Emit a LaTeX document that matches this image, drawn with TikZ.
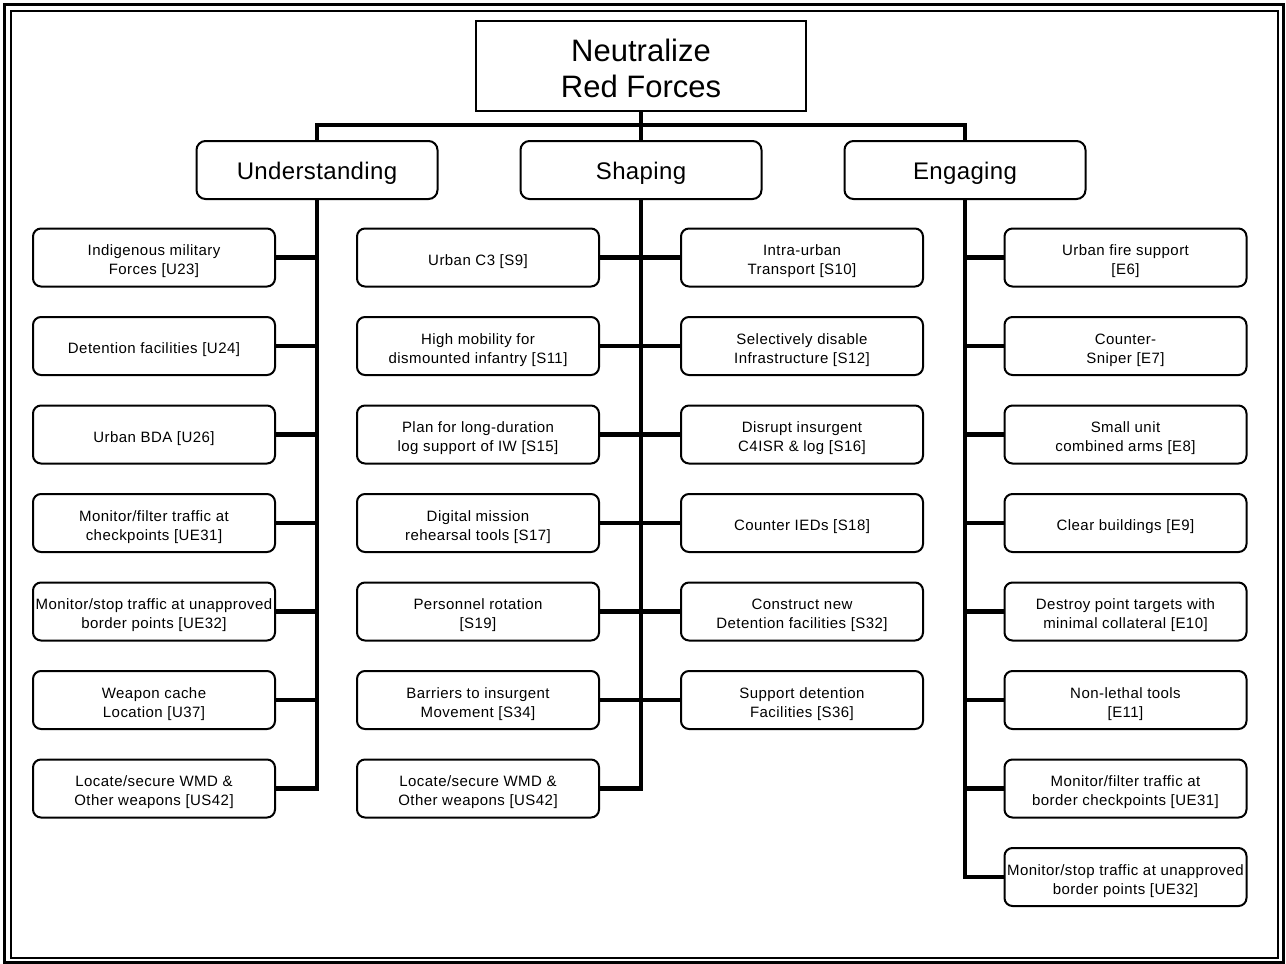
\documentclass[tikz,border=0pt]{standalone}
\usepackage{fontspec}
\setmainfont{Liberation Sans}
\newfontfamily\boxfont{Liberation Sans}[LetterSpace=3]
\newfontfamily\headfont{Liberation Sans}[LetterSpace=1.5]
\newcommand{\lowtxt}[2]{\raisebox{-#1}[\height][\depth]{\begin{tabular}{@{}c@{}}#2\end{tabular}}}
\begin{document}
\begin{tikzpicture}[x=1pt,y=-1pt,
  box/.style={draw,line width=2pt,rounded corners=8pt,minimum width=242pt,minimum height=58pt,inner sep=0pt,align=center,font=\boxfont\fontsize{15}{19}\selectfont},
  head/.style={draw,line width=2pt,rounded corners=9pt,minimum width=241pt,minimum height=58pt,inner sep=0pt,font=\headfont\fontsize{24}{28}\selectfont},
  root/.style={draw,line width=2pt,minimum width=330pt,minimum height=90pt,inner sep=0pt,align=center,font=\fontsize{31}{36}\selectfont},
  conn/.style={line width=4.5pt,line join=miter}]
\useasboundingbox (0,0) rectangle (1286,964);
\draw[line width=3pt] (4.5,4.5) rectangle (1283,962);
\draw[line width=2pt] (10.5,10.5) rectangle (1278,957.5);

% top levels
\node[root] (top) at (641,66) {\lowtxt{6pt}{Neutralize\\Red Forces}};
\node[head] (U) at (317,170) {\lowtxt{4pt}{Understanding}};
\node[head] (S) at (641,170) {\lowtxt{4pt}{Shaping}};
\node[head] (E) at (965,170) {\lowtxt{4pt}{Engaging}};
\coordinate (bus) at (641,125);
\draw[conn] (top.south) -- (S.north);
\draw[conn] (U.north) -- (U.north |- bus) -- (E.north |- bus) -- (E.north);

% Understanding column
\node[box] (u1) at (154,257.5) {\lowtxt{4pt}{Indigenous military\\Forces [U23]}};
\node[box] (u2) at (154,346) {\lowtxt{4pt}{Detention facilities [U24]}};
\node[box] (u3) at (154,434.5) {\lowtxt{4pt}{Urban BDA [U26]}};
\node[box] (u4) at (154,523) {\lowtxt{4pt}{Monitor/filter traffic at\\checkpoints [UE31]}};
\node[box] (u5) at (154,611.5) {\lowtxt{4pt}{Monitor/stop traffic at unapproved\\border points [UE32]}};
\node[box] (u6) at (154,700) {\lowtxt{4pt}{Weapon cache\\Location [U37]}};
\node[box] (u7) at (154,788.5) {\lowtxt{4pt}{Locate/secure WMD \&\\Other weapons [US42]}};
\draw[conn] (U.south) -- (U.south |- u7.east) -- (u7.east);
\foreach \c in {u1,u2,u3,u4,u5,u6}
  \draw[conn] (\c.east) -- (\c.east -| U.south);

% Shaping column
\node[box] (sl1) at (478,257.5) {\lowtxt{4pt}{Urban C3 [S9]}};
\node[box] (sl2) at (478,346) {\lowtxt{4pt}{High mobility for\\dismounted infantry [S11]}};
\node[box] (sl3) at (478,434.5) {\lowtxt{4pt}{Plan for long-duration\\log support of IW [S15]}};
\node[box] (sl4) at (478,523) {\lowtxt{4pt}{Digital mission\\rehearsal tools [S17]}};
\node[box] (sl5) at (478,611.5) {\lowtxt{4pt}{Personnel rotation\\{[S19]}}};
\node[box] (sl6) at (478,700) {\lowtxt{4pt}{Barriers to insurgent\\Movement [S34]}};
\node[box] (sl7) at (478,788.5) {\lowtxt{4pt}{Locate/secure WMD \&\\Other weapons [US42]}};
\node[box] (sr1) at (802,257.5) {\lowtxt{4pt}{Intra-urban\\Transport [S10]}};
\node[box] (sr2) at (802,346) {\lowtxt{4pt}{Selectively disable\\Infrastructure [S12]}};
\node[box] (sr3) at (802,434.5) {\lowtxt{4pt}{Disrupt insurgent\\C4ISR \& log [S16]}};
\node[box] (sr4) at (802,523) {\lowtxt{4pt}{Counter IEDs [S18]}};
\node[box] (sr5) at (802,611.5) {\lowtxt{4pt}{Construct new\\Detention facilities [S32]}};
\node[box] (sr6) at (802,700) {\lowtxt{4pt}{Support detention\\Facilities [S36]}};
\draw[conn] (S.south) -- (S.south |- sl7.east) -- (sl7.east);
\foreach \c in {sl1,sl2,sl3,sl4,sl5,sl6}
  \draw[conn] (\c.east) -- (\c.east -| S.south);
\foreach \c in {sr1,sr2,sr3,sr4,sr5,sr6}
  \draw[conn] (\c.west) -- (\c.west -| S.south);

% Engaging column
\node[box] (e1) at (1125.5,257.5) {\lowtxt{4pt}{Urban fire support\\{[E6]}}};
\node[box] (e2) at (1125.5,346) {\lowtxt{4pt}{Counter-\\Sniper [E7]}};
\node[box] (e3) at (1125.5,434.5) {\lowtxt{4pt}{Small unit\\combined arms [E8]}};
\node[box] (e4) at (1125.5,523) {\lowtxt{4pt}{Clear buildings [E9]}};
\node[box] (e5) at (1125.5,611.5) {\lowtxt{4pt}{Destroy point targets with\\minimal collateral [E10]}};
\node[box] (e6) at (1125.5,700) {\lowtxt{4pt}{Non-lethal tools\\{[E11]}}};
\node[box] (e7) at (1125.5,788.5) {\lowtxt{4pt}{Monitor/filter traffic at\\border checkpoints [UE31]}};
\node[box] (e8) at (1125.5,877) {\lowtxt{4pt}{Monitor/stop traffic at unapproved\\border points [UE32]}};
\draw[conn] (E.south) -- (E.south |- e8.west) -- (e8.west);
\foreach \c in {e1,e2,e3,e4,e5,e6,e7}
  \draw[conn] (\c.west) -- (\c.west -| E.south);
\end{tikzpicture}
\end{document}
